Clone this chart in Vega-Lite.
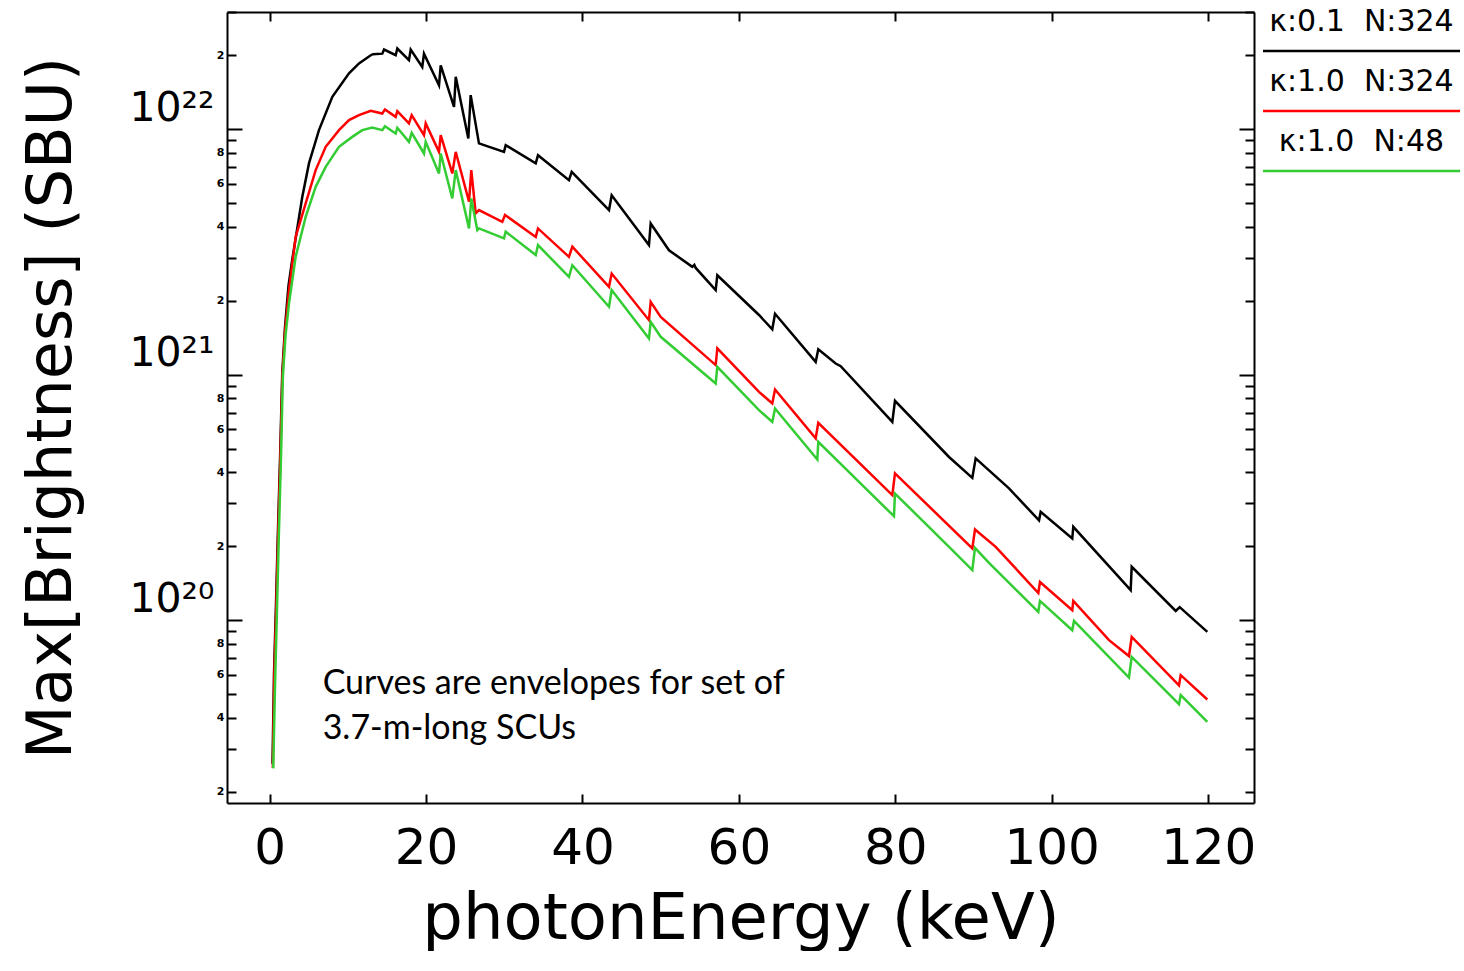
{
  "$schema": "https://vega.github.io/schema/vega-lite/v6.json",
  "padding": {"left": 20, "top": 6, "right": 0, "bottom": 0},
  "background": "white",
  "config": {"view": {"stroke": null}, "font": "DejaVu Sans"},
  "spacing": 5,
  "datasets": {
    "curves": [
      {"series": "κ:0.1  N:324", "energy": 0.36, "brightness": 2.6e19},
      {"series": "κ:0.1  N:324", "energy": 0.55, "brightness": 6.0e19},
      {"series": "κ:0.1  N:324", "energy": 0.8, "brightness": 1.15e20},
      {"series": "κ:0.1  N:324", "energy": 1.02, "brightness": 2.1e20},
      {"series": "κ:0.1  N:324", "energy": 1.35, "brightness": 4.9e20},
      {"series": "κ:0.1  N:324", "energy": 1.6, "brightness": 1.0e21},
      {"series": "κ:0.1  N:324", "energy": 1.95, "brightness": 1.55e21},
      {"series": "κ:0.1  N:324", "energy": 2.4, "brightness": 2.3e21},
      {"series": "κ:0.1  N:324", "energy": 2.89, "brightness": 2.95e21},
      {"series": "κ:0.1  N:324", "energy": 4.17, "brightness": 5.3e21},
      {"series": "κ:0.1  N:324", "energy": 5.03, "brightness": 7.27e21},
      {"series": "κ:0.1  N:324", "energy": 6.3, "brightness": 9.91e21},
      {"series": "κ:0.1  N:324", "energy": 8.01, "brightness": 1.354e22},
      {"series": "κ:0.1  N:324", "energy": 10.14, "brightness": 1.687e22},
      {"series": "κ:0.1  N:324", "energy": 11.42, "brightness": 1.853e22},
      {"series": "κ:0.1  N:324", "energy": 12.92, "brightness": 2.0e22},
      {"series": "κ:0.1  N:324", "energy": 13.21, "brightness": 2.02e22},
      {"series": "κ:0.1  N:324", "energy": 14.4, "brightness": 2.03e22},
      {"series": "κ:0.1  N:324", "energy": 14.62, "brightness": 2.11e22},
      {"series": "κ:0.1  N:324", "energy": 16.11, "brightness": 2.0e22},
      {"series": "κ:0.1  N:324", "energy": 16.32, "brightness": 2.13e22},
      {"series": "κ:0.1  N:324", "energy": 17.81, "brightness": 1.91e22},
      {"series": "κ:0.1  N:324", "energy": 18.03, "brightness": 2.11e22},
      {"series": "κ:0.1  N:324", "energy": 19.51, "brightness": 1.79e22},
      {"series": "κ:0.1  N:324", "energy": 19.73, "brightness": 2.03e22},
      {"series": "κ:0.1  N:324", "energy": 21.65, "brightness": 1.51e22},
      {"series": "κ:0.1  N:324", "energy": 21.87, "brightness": 1.82e22},
      {"series": "κ:0.1  N:324", "energy": 23.57, "brightness": 1.233e22},
      {"series": "κ:0.1  N:324", "energy": 23.79, "brightness": 1.633e22},
      {"series": "κ:0.1  N:324", "energy": 25.4, "brightness": 9.17e21},
      {"series": "κ:0.1  N:324", "energy": 25.7, "brightness": 1.376e22},
      {"series": "κ:0.1  N:324", "energy": 26.76, "brightness": 8.75e21},
      {"series": "κ:0.1  N:324", "energy": 29.96, "brightness": 8.08e21},
      {"series": "κ:0.1  N:324", "energy": 30.18, "brightness": 8.61e21},
      {"series": "κ:0.1  N:324", "energy": 34.02, "brightness": 7.25e21},
      {"series": "κ:0.1  N:324", "energy": 34.31, "brightness": 7.83e21},
      {"series": "κ:0.1  N:324", "energy": 38.27, "brightness": 6.2e21},
      {"series": "κ:0.1  N:324", "energy": 38.62, "brightness": 6.7e21},
      {"series": "κ:0.1  N:324", "energy": 43.39, "brightness": 4.68e21},
      {"series": "κ:0.1  N:324", "energy": 43.73, "brightness": 5.38e21},
      {"series": "κ:0.1  N:324", "energy": 48.5, "brightness": 3.37e21},
      {"series": "κ:0.1  N:324", "energy": 48.72, "brightness": 4.13e21},
      {"series": "κ:0.1  N:324", "energy": 51.06, "brightness": 3.21e21},
      {"series": "κ:0.1  N:324", "energy": 54.04, "brightness": 2.75e21},
      {"series": "κ:0.1  N:324", "energy": 54.3, "brightness": 2.8e21},
      {"series": "κ:0.1  N:324", "energy": 54.48, "brightness": 2.72e21},
      {"series": "κ:0.1  N:324", "energy": 57.03, "brightness": 2.21e21},
      {"series": "κ:0.1  N:324", "energy": 57.24, "brightness": 2.54e21},
      {"series": "κ:0.1  N:324", "energy": 62.57, "brightness": 1.75e21},
      {"series": "κ:0.1  N:324", "energy": 64.27, "brightness": 1.53e21},
      {"series": "κ:0.1  N:324", "energy": 64.62, "brightness": 1.77e21},
      {"series": "κ:0.1  N:324", "energy": 69.82, "brightness": 1.127e21},
      {"series": "κ:0.1  N:324", "energy": 70.15, "brightness": 1.27e21},
      {"series": "κ:0.1  N:324", "energy": 72.38, "brightness": 1.11e21},
      {"series": "κ:0.1  N:324", "energy": 73.02, "brightness": 1.083e21},
      {"series": "κ:0.1  N:324", "energy": 79.62, "brightness": 6.42e20},
      {"series": "κ:0.1  N:324", "energy": 79.96, "brightness": 7.82e20},
      {"series": "κ:0.1  N:324", "energy": 86.87, "brightness": 4.62e20},
      {"series": "κ:0.1  N:324", "energy": 89.85, "brightness": 3.8e20},
      {"series": "κ:0.1  N:324", "energy": 90.28, "brightness": 4.56e20},
      {"series": "κ:0.1  N:324", "energy": 94.54, "brightness": 3.44e20},
      {"series": "κ:0.1  N:324", "energy": 98.38, "brightness": 2.55e20},
      {"series": "κ:0.1  N:324", "energy": 98.59, "brightness": 2.76e20},
      {"series": "κ:0.1  N:324", "energy": 102.63, "brightness": 2.15e20},
      {"series": "κ:0.1  N:324", "energy": 102.76, "brightness": 2.4e20},
      {"series": "κ:0.1  N:324", "energy": 110.1, "brightness": 1.325e20},
      {"series": "κ:0.1  N:324", "energy": 110.23, "brightness": 1.65e20},
      {"series": "κ:0.1  N:324", "energy": 115.86, "brightness": 1.09e20},
      {"series": "κ:0.1  N:324", "energy": 116.37, "brightness": 1.13e20},
      {"series": "κ:0.1  N:324", "energy": 119.9, "brightness": 8.96e19},

      {"series": "κ:1.0  N:324", "energy": 0.4, "brightness": 2.5e19},
      {"series": "κ:1.0  N:324", "energy": 0.58, "brightness": 5.8e19},
      {"series": "κ:1.0  N:324", "energy": 0.83, "brightness": 1.1e20},
      {"series": "κ:1.0  N:324", "energy": 1.05, "brightness": 2.05e20},
      {"series": "κ:1.0  N:324", "energy": 1.38, "brightness": 4.8e20},
      {"series": "κ:1.0  N:324", "energy": 1.63, "brightness": 1.0e21},
      {"series": "κ:1.0  N:324", "energy": 1.95, "brightness": 1.48e21},
      {"series": "κ:1.0  N:324", "energy": 2.47, "brightness": 2.21e21},
      {"series": "κ:1.0  N:324", "energy": 3.32, "brightness": 3.64e21},
      {"series": "κ:1.0  N:324", "energy": 4.6, "brightness": 4.98e21},
      {"series": "κ:1.0  N:324", "energy": 5.88, "brightness": 6.81e21},
      {"series": "κ:1.0  N:324", "energy": 7.16, "brightness": 8.47e21},
      {"series": "κ:1.0  N:324", "energy": 8.86, "brightness": 9.91e21},
      {"series": "κ:1.0  N:324", "energy": 10.14, "brightness": 1.088e22},
      {"series": "κ:1.0  N:324", "energy": 11.42, "brightness": 1.14e22},
      {"series": "κ:1.0  N:324", "energy": 12.92, "brightness": 1.187e22},
      {"series": "κ:1.0  N:324", "energy": 14.4, "brightness": 1.158e22},
      {"series": "κ:1.0  N:324", "energy": 14.74, "brightness": 1.203e22},
      {"series": "κ:1.0  N:324", "energy": 16.11, "brightness": 1.122e22},
      {"series": "κ:1.0  N:324", "energy": 16.32, "brightness": 1.184e22},
      {"series": "κ:1.0  N:324", "energy": 17.81, "brightness": 1.055e22},
      {"series": "κ:1.0  N:324", "energy": 18.16, "brightness": 1.14e22},
      {"series": "κ:1.0  N:324", "energy": 19.73, "brightness": 9.45e21},
      {"series": "κ:1.0  N:324", "energy": 19.95, "brightness": 1.055e22},
      {"series": "κ:1.0  N:324", "energy": 21.65, "brightness": 8.08e21},
      {"series": "κ:1.0  N:324", "energy": 21.87, "brightness": 9.45e21},
      {"series": "κ:1.0  N:324", "energy": 23.35, "brightness": 6.6e21},
      {"series": "κ:1.0  N:324", "energy": 23.79, "brightness": 8.08e21},
      {"series": "κ:1.0  N:324", "energy": 25.49, "brightness": 5.06e21},
      {"series": "κ:1.0  N:324", "energy": 25.78, "brightness": 6.81e21},
      {"series": "κ:1.0  N:324", "energy": 26.34, "brightness": 4.54e21},
      {"series": "κ:1.0  N:324", "energy": 26.76, "brightness": 4.68e21},
      {"series": "κ:1.0  N:324", "energy": 29.74, "brightness": 4.19e21},
      {"series": "κ:1.0  N:324", "energy": 30.09, "brightness": 4.47e21},
      {"series": "κ:1.0  N:324", "energy": 34.02, "brightness": 3.64e21},
      {"series": "κ:1.0  N:324", "energy": 34.31, "brightness": 3.94e21},
      {"series": "κ:1.0  N:324", "energy": 38.27, "brightness": 3.02e21},
      {"series": "κ:1.0  N:324", "energy": 38.7, "brightness": 3.32e21},
      {"series": "κ:1.0  N:324", "energy": 43.39, "brightness": 2.28e21},
      {"series": "κ:1.0  N:324", "energy": 43.73, "brightness": 2.58e21},
      {"series": "κ:1.0  N:324", "energy": 48.5, "brightness": 1.667e21},
      {"series": "κ:1.0  N:324", "energy": 48.72, "brightness": 1.98e21},
      {"series": "κ:1.0  N:324", "energy": 50.0, "brightness": 1.72e21},
      {"series": "κ:1.0  N:324", "energy": 57.03, "brightness": 1.094e21},
      {"series": "κ:1.0  N:324", "energy": 57.24, "brightness": 1.279e21},
      {"series": "κ:1.0  N:324", "energy": 62.57, "brightness": 8.51e20},
      {"series": "κ:1.0  N:324", "energy": 64.27, "brightness": 7.63e20},
      {"series": "κ:1.0  N:324", "energy": 64.62, "brightness": 8.7e20},
      {"series": "κ:1.0  N:324", "energy": 69.82, "brightness": 5.5e20},
      {"series": "κ:1.0  N:324", "energy": 70.15, "brightness": 6.36e20},
      {"series": "κ:1.0  N:324", "energy": 79.62, "brightness": 3.23e20},
      {"series": "κ:1.0  N:324", "energy": 79.96, "brightness": 3.96e20},
      {"series": "κ:1.0  N:324", "energy": 89.85, "brightness": 1.96e20},
      {"series": "κ:1.0  N:324", "energy": 90.19, "brightness": 2.34e20},
      {"series": "κ:1.0  N:324", "energy": 92.84, "brightness": 1.99e20},
      {"series": "κ:1.0  N:324", "energy": 98.29, "brightness": 1.29e20},
      {"series": "κ:1.0  N:324", "energy": 98.5, "brightness": 1.43e20},
      {"series": "κ:1.0  N:324", "energy": 102.63, "brightness": 1.098e20},
      {"series": "κ:1.0  N:324", "energy": 102.76, "brightness": 1.198e20},
      {"series": "κ:1.0  N:324", "energy": 107.33, "brightness": 8.29e19},
      {"series": "κ:1.0  N:324", "energy": 109.88, "brightness": 7.14e19},
      {"series": "κ:1.0  N:324", "energy": 110.23, "brightness": 8.55e19},
      {"series": "κ:1.0  N:324", "energy": 116.28, "brightness": 5.43e19},
      {"series": "κ:1.0  N:324", "energy": 116.5, "brightness": 5.97e19},
      {"series": "κ:1.0  N:324", "energy": 119.9, "brightness": 4.75e19},

      {"series": "κ:1.0  N:48", "energy": 0.45, "brightness": 2.49e19},
      {"series": "κ:1.0  N:48", "energy": 0.68, "brightness": 5.4e19},
      {"series": "κ:1.0  N:48", "energy": 0.91, "brightness": 1.04e20},
      {"series": "κ:1.0  N:48", "energy": 1.13, "brightness": 2.0e20},
      {"series": "κ:1.0  N:48", "energy": 1.44, "brightness": 4.57e20},
      {"series": "κ:1.0  N:48", "energy": 1.68, "brightness": 9.77e20},
      {"series": "κ:1.0  N:48", "energy": 2.03, "brightness": 1.45e21},
      {"series": "κ:1.0  N:48", "energy": 2.47, "brightness": 1.95e21},
      {"series": "κ:1.0  N:48", "energy": 3.32, "brightness": 3.02e21},
      {"series": "κ:1.0  N:48", "energy": 4.6, "brightness": 4.39e21},
      {"series": "κ:1.0  N:48", "energy": 5.88, "brightness": 5.82e21},
      {"series": "κ:1.0  N:48", "energy": 7.16, "brightness": 7.02e21},
      {"series": "κ:1.0  N:48", "energy": 8.86, "brightness": 8.47e21},
      {"series": "κ:1.0  N:48", "energy": 10.56, "brightness": 9.3e21},
      {"series": "κ:1.0  N:48", "energy": 11.84, "brightness": 9.91e21},
      {"series": "κ:1.0  N:48", "energy": 13.12, "brightness": 1.016e22},
      {"series": "κ:1.0  N:48", "energy": 14.4, "brightness": 9.91e21},
      {"series": "κ:1.0  N:48", "energy": 14.74, "brightness": 1.028e22},
      {"series": "κ:1.0  N:48", "energy": 16.11, "brightness": 9.6e21},
      {"series": "κ:1.0  N:48", "energy": 16.32, "brightness": 1.013e22},
      {"series": "κ:1.0  N:48", "energy": 17.81, "brightness": 8.88e21},
      {"series": "κ:1.0  N:48", "energy": 18.16, "brightness": 9.66e21},
      {"series": "κ:1.0  N:48", "energy": 19.73, "brightness": 7.96e21},
      {"series": "κ:1.0  N:48", "energy": 19.95, "brightness": 8.88e21},
      {"series": "κ:1.0  N:48", "energy": 21.65, "brightness": 6.6e21},
      {"series": "κ:1.0  N:48", "energy": 21.87, "brightness": 7.96e21},
      {"series": "κ:1.0  N:48", "energy": 23.35, "brightness": 5.22e21},
      {"series": "κ:1.0  N:48", "energy": 23.79, "brightness": 6.81e21},
      {"series": "κ:1.0  N:48", "energy": 25.49, "brightness": 3.94e21},
      {"series": "κ:1.0  N:48", "energy": 25.78, "brightness": 5.22e21},
      {"series": "κ:1.0  N:48", "energy": 26.55, "brightness": 3.88e21},
      {"series": "κ:1.0  N:48", "energy": 26.76, "brightness": 3.94e21},
      {"series": "κ:1.0  N:48", "energy": 29.96, "brightness": 3.59e21},
      {"series": "κ:1.0  N:48", "energy": 30.18, "brightness": 3.82e21},
      {"series": "κ:1.0  N:48", "energy": 34.02, "brightness": 3.07e21},
      {"series": "κ:1.0  N:48", "energy": 34.31, "brightness": 3.37e21},
      {"series": "κ:1.0  N:48", "energy": 38.27, "brightness": 2.5e21},
      {"series": "κ:1.0  N:48", "energy": 38.7, "brightness": 2.79e21},
      {"series": "κ:1.0  N:48", "energy": 43.39, "brightness": 1.89e21},
      {"series": "κ:1.0  N:48", "energy": 43.73, "brightness": 2.21e21},
      {"series": "κ:1.0  N:48", "energy": 48.5, "brightness": 1.405e21},
      {"series": "κ:1.0  N:48", "energy": 48.72, "brightness": 1.64e21},
      {"series": "κ:1.0  N:48", "energy": 50.0, "brightness": 1.426e21},
      {"series": "κ:1.0  N:48", "energy": 57.03, "brightness": 9.21e20},
      {"series": "κ:1.0  N:48", "energy": 57.24, "brightness": 1.076e21},
      {"series": "κ:1.0  N:48", "energy": 62.57, "brightness": 7.17e20},
      {"series": "κ:1.0  N:48", "energy": 64.27, "brightness": 6.42e20},
      {"series": "κ:1.0  N:48", "energy": 64.62, "brightness": 7.28e20},
      {"series": "κ:1.0  N:48", "energy": 70.03, "brightness": 4.51e20},
      {"series": "κ:1.0  N:48", "energy": 70.15, "brightness": 5.32e20},
      {"series": "κ:1.0  N:48", "energy": 79.83, "brightness": 2.65e20},
      {"series": "κ:1.0  N:48", "energy": 79.96, "brightness": 3.28e20},
      {"series": "κ:1.0  N:48", "energy": 87.29, "brightness": 1.93e20},
      {"series": "κ:1.0  N:48", "energy": 89.85, "brightness": 1.6e20},
      {"series": "κ:1.0  N:48", "energy": 90.19, "brightness": 1.97e20},
      {"series": "κ:1.0  N:48", "energy": 91.98, "brightness": 1.71e20},
      {"series": "κ:1.0  N:48", "energy": 98.29, "brightness": 1.081e20},
      {"series": "κ:1.0  N:48", "energy": 98.5, "brightness": 1.198e20},
      {"series": "κ:1.0  N:48", "energy": 102.63, "brightness": 9.1e19},
      {"series": "κ:1.0  N:48", "energy": 102.85, "brightness": 9.93e19},
      {"series": "κ:1.0  N:48", "energy": 109.88, "brightness": 5.84e19},
      {"series": "κ:1.0  N:48", "energy": 110.23, "brightness": 7.09e19},
      {"series": "κ:1.0  N:48", "energy": 116.28, "brightness": 4.55e19},
      {"series": "κ:1.0  N:48", "energy": 116.5, "brightness": 4.95e19},
      {"series": "κ:1.0  N:48", "energy": 119.9, "brightness": 3.85e19}
    ],
    "legendRows": [
      {"series": "κ:0.1  N:324", "label": "κ:0.1\u00a0\u00a0N:324"},
      {"series": "κ:1.0  N:324", "label": "κ:1.0\u00a0\u00a0N:324"},
      {"series": "κ:1.0  N:48", "label": "κ:1.0\u00a0\u00a0N:48"}
    ],
    "note": [
      {"line1": "Curves are envelopes for set of", "line2": "3.7-m-long SCUs"}
    ]
  },
  "hconcat": [
    {
      "width": 1027,
      "height": 791,
      "layer": [
        {
          "data": {"name": "curves"},
          "mark": {"type": "line", "strokeWidth": 2.5, "clip": true},
          "encoding": {
            "x": {
              "field": "energy", "type": "quantitative",
              "scale": {"domain": [-5.46, 125.87], "nice": false, "zero": false},
              "axis": {
                "orient": "bottom",
                "values": [0, 20, 40, 60, 80, 100, 120],
                "grid": false,
                "domain": true, "domainColor": "black", "domainWidth": 2,
                "ticks": true, "tickSize": -9, "tickWidth": 2, "tickColor": "black",
                "labelFont": "DejaVu Sans", "labelFontSize": 50, "labelColor": "black",
                "labelPadding": 29, "labelFlush": false, "labelOverlap": false,
                "title": "photonEnergy  (keV)",
                "titleFont": "DejaVu Sans", "titleFontSize": 64, "titleFontWeight": "normal",
                "titleColor": "black", "titlePadding": 14
              }
            },
            "y": {
              "field": "brightness", "type": "quantitative",
              "scale": {"type": "log", "domain": [1.8e19, 3e22], "nice": false},
              "axis": {
                "orient": "left",
                "values": [2e19, 3e19, 4e19, 5e19, 6e19, 7e19, 8e19, 9e19, 1e20, 2e20, 3e20, 4e20, 5e20, 6e20, 7e20, 8e20, 9e20, 1e21, 2e21, 3e21, 4e21, 5e21, 6e21, 7e21, 8e21, 9e21, 1e22, 2e22, 3e22],
                "grid": false,
                "domain": true, "domainColor": "black", "domainWidth": 2,
                "ticks": true, "tickWidth": 2, "tickColor": "black",
                "tickSize": {"condition": {"test": "datum.value == 1e20 || datum.value == 1e21 || datum.value == 1e22", "value": -15}, "value": -9},
                "labelExpr": "datum.value == 1e22 ? '10²²' : datum.value == 1e21 ? '10²¹' : datum.value == 1e20 ? '10²⁰' : (indexof([2, 4, 6, 8], round(datum.value / pow(10, floor(log(datum.value) / LN10 + 1e-9)))) >= 0 ? '' + round(datum.value / pow(10, floor(log(datum.value) / LN10 + 1e-9))) : '')",
                "labelFont": "DejaVu Sans", "labelColor": "black",
                "labelFontSize": {"condition": {"test": "datum.value == 1e20 || datum.value == 1e21 || datum.value == 1e22", "value": 41}, "value": 11},
                "labelFontWeight": {"condition": {"test": "datum.value == 1e20 || datum.value == 1e21 || datum.value == 1e22", "value": "normal"}, "value": "bold"},
                "labelBaseline": {"condition": {"test": "datum.value == 1e20 || datum.value == 1e21 || datum.value == 1e22", "value": "bottom"}, "value": "middle"},
                "labelPadding": {"condition": {"test": "datum.value == 1e20 || datum.value == 1e21 || datum.value == 1e22", "value": 28}, "value": 12},
                "labelFlush": false, "labelOverlap": false, "labelBound": false,
                "title": "Max[Brightness] (SBU)",
                "titleFont": "DejaVu Sans", "titleFontSize": 62, "titleFontWeight": "normal",
                "titleColor": "black", "titlePadding": 45
              }
            },
            "color": {
              "field": "series", "type": "nominal",
              "scale": {"domain": ["κ:0.1  N:324", "κ:1.0  N:324", "κ:1.0  N:48"], "range": ["#000000", "#ff0000", "#33cc33"]},
              "legend": null
            }
          }
        },
        {
          "data": {"name": "note"},
          "mark": {"type": "text", "align": "left", "baseline": "alphabetic", "font": "Lato", "fontSize": 34, "lineHeight": 45, "color": "black"},
          "encoding": {
            "x": {
              "datum": 6.77, "type": "quantitative",
              "axis": {
                "orient": "top",
                "values": [0, 20, 40, 60, 80, 100, 120],
                "grid": false, "labels": false, "title": null,
                "domain": true, "domainColor": "black", "domainWidth": 2,
                "ticks": true, "tickSize": -9, "tickWidth": 2, "tickColor": "black"
              }
            },
            "y": {
              "datum": 5e19, "type": "quantitative",
              "axis": {
                "orient": "right",
                "values": [2e19, 3e19, 4e19, 5e19, 6e19, 7e19, 8e19, 9e19, 1e20, 2e20, 3e20, 4e20, 5e20, 6e20, 7e20, 8e20, 9e20, 1e21, 2e21, 3e21, 4e21, 5e21, 6e21, 7e21, 8e21, 9e21, 1e22, 2e22, 3e22],
                "grid": false, "labels": false, "title": null,
                "domain": true, "domainColor": "black", "domainWidth": 2,
                "ticks": true, "tickWidth": 2, "tickColor": "black",
                "tickSize": {"condition": {"test": "datum.value == 1e20 || datum.value == 1e21 || datum.value == 1e22", "value": -15}, "value": -9}
              }
            },
            "text": {"value": ["Curves are envelopes for set of", "3.7-m-long SCUs"]}
          }
        }
      ],
      "resolve": {"axis": {"x": "independent", "y": "independent"}}
    },
    {
      "width": 197,
      "height": 180,
      "data": {"name": "legendRows"},
      "layer": [
        {
          "mark": {"type": "rule", "strokeWidth": 2.5, "yOffset": 9},
          "encoding": {
            "y": {"field": "series", "type": "nominal", "sort": null, "scale": {"paddingInner": 0, "paddingOuter": 0}, "axis": null},
            "color": {
              "field": "series", "type": "nominal",
              "scale": {"domain": ["κ:0.1  N:324", "κ:1.0  N:324", "κ:1.0  N:48"], "range": ["#000000", "#ff0000", "#33cc33"]},
              "legend": null
            }
          }
        },
        {
          "mark": {"type": "text", "font": "DejaVu Sans", "fontSize": 30, "dy": -20, "baseline": "middle", "align": "center", "color": "black"},
          "encoding": {
            "y": {"field": "series", "type": "nominal", "sort": null, "axis": null},
            "text": {"field": "label"}
          }
        }
      ]
    }
  ]
}
